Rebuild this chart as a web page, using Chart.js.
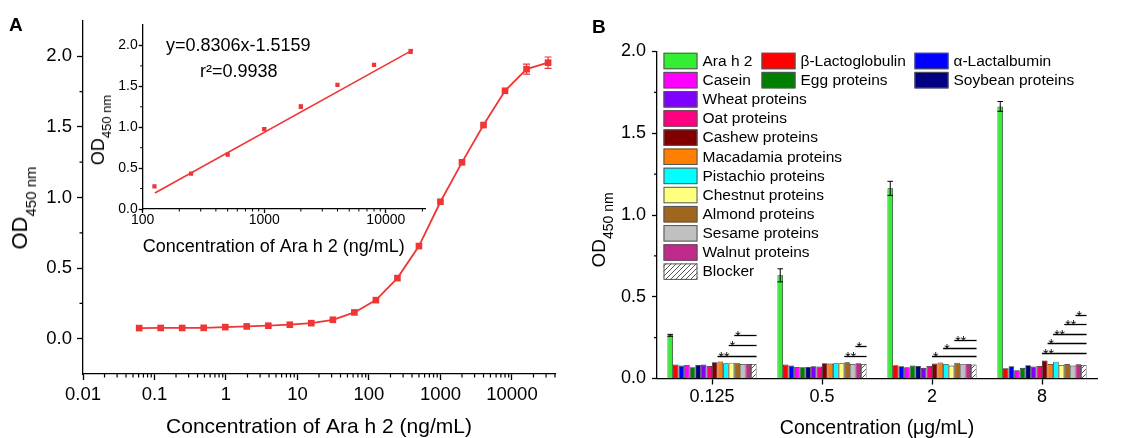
<!DOCTYPE html>
<html>
<head>
<meta charset="utf-8">
<script src="https://cdn.jsdelivr.net/npm/chart.js@4.4.1/dist/chart.umd.min.js"></script>
<style>
html,body{margin:0;padding:0;background:#fff;}
#wrap{position:relative;width:1124px;height:438px;overflow:hidden;font-family:"Liberation Sans",Arial,sans-serif;color:#000;background:#fff;}
canvas{position:absolute;}
.t{position:absolute;white-space:nowrap;line-height:1;}
.rot{position:absolute;white-space:nowrap;line-height:1;transform:translate(-50%,-50%) rotate(-90deg);}
.sub{position:relative;}
</style>
</head>
<body>
<div id="wrap">
  <canvas id="cA" width="560" height="438" style="left:0;top:0;"></canvas>
  <canvas id="cIn" width="340" height="241" style="left:95px;top:15px;"></canvas>
  <canvas id="cB" width="554" height="438" style="left:570px;top:0;"></canvas>

  <div class="t" style="left:9px;top:15px;font-size:19px;font-weight:bold;">A</div>
  <div class="t" style="left:592px;top:17px;font-size:19px;font-weight:bold;">B</div>

  <div class="t" style="left:166px;top:35.5px;font-size:18px;">y=0.8306x-1.5159</div>
  <div class="t" style="left:200px;top:61.5px;font-size:18px;">r²=0.9938</div>

  <div class="rot" style="left:20px;top:207.5px;"><span style="font-size:22px;">OD</span><span class="sub" style="font-size:15px;top:9px;">450 nm</span></div>
  <div class="rot" style="left:97.5px;top:130px;"><span style="font-size:18px;">OD</span><span class="sub" style="font-size:13px;top:7px;">450 nm</span></div>
  <div class="rot" style="left:598px;top:229.5px;"><span style="font-size:19px;">OD</span><span class="sub" style="font-size:14px;top:8px;">450 nm</span></div>
</div>

<script>
// ================= DATA =================
// Panel A: main standard curve (ng/mL vs OD450)
const concA = [0.061, 0.122, 0.244, 0.488, 0.977, 1.95, 3.91, 7.81, 15.6, 31.3, 62.5, 125, 250, 500, 1000, 2000, 4000, 8000, 16000, 32000];
const odA   = [0.075, 0.076, 0.076, 0.077, 0.082, 0.087, 0.092, 0.099, 0.110, 0.134, 0.186, 0.273, 0.429, 0.656, 0.970, 1.249, 1.513, 1.756, 1.909, 1.955];
const errA  = [0, 0, 0, 0, 0, 0, 0, 0, 0, 0, 0, 0, 0, 0, 0, 0, 0, 0, 0.035, 0.04];
const xTicksA = [0.01, 0.1, 1, 10, 100, 1000, 10000];
const yTicksA = [0, 0.5, 1.0, 1.5, 2.0];
const yMinorA = [0.25, 0.75, 1.25, 1.75];

// Panel A inset: linear range
const concIn = [125, 250, 500, 1000, 2000, 4000, 8000, 16000];
const odIn   = [0.278, 0.433, 0.665, 0.976, 1.253, 1.518, 1.763, 1.927];
const errIn  = [0, 0, 0, 0.015, 0.02, 0, 0, 0.025];
const fitX   = [126, 16700];
const fitY   = [0.196, 1.946];
const xTicksIn = [100, 1000, 10000];
const yTicksIn = [0, 0.5, 1.0, 1.5, 2.0];
const yMinorIn = [0.25, 0.75, 1.25, 1.75];

// Panel B: cross-reactivity
const groupsB = ['0.125', '0.5', '2', '8'];
const seriesNames = ['Ara h 2', 'β-Lactoglobulin', 'α-Lactalbumin', 'Casein', 'Egg proteins', 'Soybean proteins',
  'Wheat proteins', 'Oat proteins', 'Cashew proteins', 'Macadamia proteins', 'Pistachio proteins',
  'Chestnut proteins', 'Almond proteins', 'Sesame proteins', 'Walnut proteins', 'Blocker'];
const araH2     = [0.264, 0.631, 1.163, 1.664];
const araH2Err  = [0.006, 0.040, 0.043, 0.030];
const betaLg    = [0.085, 0.085, 0.081, 0.063];
const alphaLa   = [0.079, 0.079, 0.075, 0.075];
const casein    = [0.083, 0.071, 0.069, 0.051];
const eggProt   = [0.069, 0.069, 0.079, 0.065];
const soyProt   = [0.083, 0.071, 0.077, 0.081];
const wheatProt = [0.085, 0.075, 0.065, 0.073];
const oatProt   = [0.077, 0.073, 0.077, 0.077];
const cashewProt= [0.100, 0.093, 0.091, 0.110];
const macaProt  = [0.104, 0.091, 0.098, 0.089];
const pistaProt = [0.093, 0.093, 0.089, 0.102];
const chestProt = [0.096, 0.093, 0.079, 0.083];
const almondProt= [0.096, 0.100, 0.096, 0.089];
const sesameProt= [0.089, 0.089, 0.087, 0.079];
const walnutProt= [0.089, 0.093, 0.089, 0.087];
const blocker   = [0.089, 0.089, 0.085, 0.083];
const yTicksB = [0, 0.5, 1.0, 1.5, 2.0];
const yMinorB = [0.25, 0.75, 1.25, 1.75];

// significance marks: group index, first series index (line runs to Blocker), y value, label
const sigGroup = [0, 0, 0, 1, 1, 2, 2, 2, 3, 3, 3, 3, 3];
const sigFrom  = [9, 11, 12, 12, 14, 8, 10, 12, 8, 9, 10, 12, 14];
const sigY     = [0.140, 0.207, 0.268, 0.140, 0.200, 0.136, 0.189, 0.238, 0.158, 0.215, 0.273, 0.334, 0.390];
const sigMark  = ['**', '*', '*', '**', '*', '*', '*', '**', '**', '*', '**', '**', '*'];

// ================= STYLE =================
const FONT = '"Liberation Sans", Arial, sans-serif';
Chart.defaults.font.family = FONT;
Chart.defaults.color = '#000';
const RED = '#f03535';
const seriesColors = ['#33ee33', '#ff0000', '#0000ff', '#ff00ff', '#008000', '#000080', '#8000ff', '#ff0080',
  '#800000', '#ff8000', '#00ffff', '#ffff80', '#a0661e', '#c0c0c0', '#c02a8a', null];

function logMinor(lo, hi) {
  const out = [];
  for (let e = Math.floor(Math.log10(lo)); e <= Math.ceil(Math.log10(hi)); e++) {
    for (let m = 2; m <= 9; m++) {
      const v = m * Math.pow(10, e);
      if (v > lo && v <= hi * 1.0001) out.push(v);
    }
  }
  return out;
}

// ================= PLUGINS =================
const minorTickPlugin = {
  id: 'minorTicks',
  afterDraw(chart, args, opts) {
    const {ctx, chartArea: a, scales} = chart;
    ctx.save();
    ctx.strokeStyle = '#000';
    ctx.lineWidth = opts.width || 1.2;
    ctx.beginPath();
    (opts.x || []).forEach(v => {
      const p = scales.x.getPixelForValue(v);
      if (p >= a.left - 0.5 && p <= a.right + 0.5) { ctx.moveTo(p, a.bottom); ctx.lineTo(p, a.bottom + opts.len); }
    });
    (opts.y || []).forEach(v => {
      const p = scales.y.getPixelForValue(v);
      if (p >= a.top - 0.5 && p <= a.bottom + 0.5) { ctx.moveTo(a.left, p); ctx.lineTo(a.left - opts.len, p); }
    });
    ctx.stroke();
    ctx.restore();
  }
};

const errorBarPlugin = {
  id: 'errBars',
  afterDatasetsDraw(chart) {
    const ctx = chart.ctx, ys = chart.scales.y;
    chart.data.datasets.forEach((ds, di) => {
      if (!ds.errors) return;
      const meta = chart.getDatasetMeta(di);
      meta.data.forEach((el, j) => {
        const e = ds.errors[j];
        if (!e) return;
        const raw = ds.data[j];
        const v = (typeof raw === 'object') ? raw.y : raw;
        const yt = ys.getPixelForValue(v + e), yb = ys.getPixelForValue(v - e);
        const hw = ds.errCap || 3;
        ctx.save();
        ctx.strokeStyle = ds.errColor || '#000';
        ctx.lineWidth = ds.errWidth || 1;
        ctx.beginPath();
        ctx.moveTo(el.x, yt); ctx.lineTo(el.x, yb);
        ctx.moveTo(el.x - hw, yt); ctx.lineTo(el.x + hw, yt);
        ctx.moveTo(el.x - hw, yb); ctx.lineTo(el.x + hw, yb);
        ctx.stroke();
        ctx.restore();
      });
    });
  }
};

const gridLegendPlugin = {
  id: 'gridLegend',
  afterDraw(chart, args, opts) {
    const ctx = chart.ctx;
    ctx.save();
    ctx.font = opts.fontSize + 'px ' + FONT;
    ctx.textBaseline = 'middle';
    chart.data.datasets.forEach((ds, i) => {
      let row, col;
      if (i < 6) { row = Math.floor(i / 3); col = i % 3; } else { row = i - 4; col = 0; }
      const x = opts.colX[col], cy = opts.rowY0 + row * opts.rowStep;
      ctx.fillStyle = ds.backgroundColor;
      ctx.fillRect(x, cy - opts.h / 2, opts.w, opts.h);
      ctx.strokeStyle = '#555';
      ctx.lineWidth = 1;
      ctx.strokeRect(x + 0.5, cy - opts.h / 2 + 0.5, opts.w - 1, opts.h - 1);
      ctx.fillStyle = '#000';
      ctx.fillText(ds.label, x + opts.w + 5, cy + 0.5);
    });
    ctx.restore();
  }
};

const sigPlugin = {
  id: 'sigMarks',
  afterDraw(chart) {
    const ctx = chart.ctx, ys = chart.scales.y;
    const last = chart.data.datasets.length - 1;
    ctx.save();
    ctx.strokeStyle = '#000';
    ctx.fillStyle = '#000';
    ctx.lineWidth = 1.3;
    ctx.font = '14px ' + FONT;
    ctx.textBaseline = 'alphabetic';
    ctx.textAlign = 'left';
    sigGroup.forEach((g, k) => {
      const a = chart.getDatasetMeta(sigFrom[k]).data[g];
      const b = chart.getDatasetMeta(last).data[g];
      const x0 = a.x - a.width / 2, x1 = b.x + b.width / 2;
      const y = Math.round(ys.getPixelForValue(sigY[k])) + 0.5;
      ctx.beginPath(); ctx.moveTo(x0, y); ctx.lineTo(x1, y); ctx.stroke();
      ctx.fillText(sigMark[k], x0 + 1, y + 5);
    });
    ctx.restore();
  }
};

function axisCommon(tickLen) {
  return {
    grid: {display: true, drawOnChartArea: false, drawTicks: true, tickLength: tickLen, tickColor: '#000', tickWidth: 1.3},
    border: {display: true, color: '#000', width: 1.3}
  };
}

// ================= PANEL A MAIN =================
new Chart(document.getElementById('cA'), {
  type: 'line',
  data: {
    datasets: [{
      data: concA.map((x, i) => ({x: x, y: odA[i]})),
      borderColor: RED, backgroundColor: RED, borderWidth: 1.8,
      pointStyle: 'rect', pointRadius: 4.7, pointBorderWidth: 0, pointBackgroundColor: RED,
      tension: 0, errors: errA, errColor: RED, errCap: 3.5, errWidth: 1.2
    }]
  },
  options: {
    responsive: false, animation: false, events: [],
    layout: {padding: {left: 0, right: 5, top: 21, bottom: 0}},
    plugins: {legend: {display: false}, tooltip: {enabled: false},
      minorTicks: {x: logMinor(0.01, 40000), y: yMinorA, len: 3.5, width: 1.2}},
    scales: {
      x: Object.assign(axisCommon(6), {
        type: 'logarithmic', min: 0.01, max: 40000,
        afterBuildTicks: a => { a.ticks = xTicksA.map(v => ({value: v})); },
        afterFit: a => { a.height = 64; },
        ticks: {callback: v => String(v), font: {size: 18.5}, color: '#000', padding: 4, maxRotation: 0, autoSkip: false},
        title: {display: true, text: 'Concentration of Ara h 2 (ng/mL)', font: {size: 21, lineHeight: 1}, padding: 0, color: '#000'}
      }),
      y: Object.assign(axisCommon(6), {
        type: 'linear', min: -0.25, max: 2.25,
        afterBuildTicks: a => { a.ticks = yTicksA.map(v => ({value: v})); },
        afterFit: a => { a.width = 83; },
        ticks: {callback: v => Number(v).toFixed(1), font: {size: 18.5}, color: '#000', padding: 5}
      })
    }
  },
  plugins: [minorTickPlugin, errorBarPlugin]
});

// ================= PANEL A INSET =================
new Chart(document.getElementById('cIn'), {
  type: 'scatter',
  data: {
    datasets: [
      {data: fitX.map((x, i) => ({x: x, y: fitY[i]})), showLine: true, borderColor: RED, borderWidth: 1.6, pointRadius: 0, fill: false},
      {data: concIn.map((x, i) => ({x: x, y: odIn[i]})), pointStyle: 'rect', pointRadius: 3, pointBorderWidth: 0,
       backgroundColor: RED, pointBackgroundColor: RED, showLine: false, errors: errIn, errColor: RED, errCap: 2.2, errWidth: 1}
    ]
  },
  options: {
    responsive: false, animation: false, events: [],
    layout: {padding: {left: 0, right: 10, top: 10, bottom: 0}},
    plugins: {legend: {display: false}, tooltip: {enabled: false},
      minorTicks: {x: logMinor(100, 21000), y: yMinorIn, len: 2.5, width: 1}},
    scales: {
      x: Object.assign(axisCommon(4), {
        type: 'logarithmic', min: 100, max: 21000,
        afterBuildTicks: a => { a.ticks = xTicksIn.map(v => ({value: v})); },
        afterFit: a => { a.height = 47; },
        ticks: {callback: v => String(v), font: {size: 14}, color: '#000', padding: -1, maxRotation: 0, autoSkip: false},
        title: {display: true, text: 'Concentration of Ara h 2 (ng/mL)', align: 'start', font: {size: 18, lineHeight: 1}, padding: 0, color: '#000'}
      }),
      y: Object.assign(axisCommon(4), {
        type: 'linear', min: 0, max: 2.25,
        afterBuildTicks: a => { a.ticks = yTicksIn.map(v => ({value: v})); },
        afterFit: a => { a.width = 47.7; },
        ticks: {callback: v => Number(v).toFixed(1), font: {size: 14}, color: '#000', padding: 1}
      })
    }
  },
  plugins: [minorTickPlugin, errorBarPlugin]
});

// ================= PANEL B =================
const cB = document.getElementById('cB');
function makeHatch(ctx) {
  const c = document.createElement('canvas');
  c.width = 5; c.height = 5;
  const g = c.getContext('2d');
  g.fillStyle = '#fff'; g.fillRect(0, 0, 5, 5);
  g.strokeStyle = '#444'; g.lineWidth = 0.9;
  g.beginPath();
  g.moveTo(0, 5); g.lineTo(5, 0);
  g.moveTo(-1, 1); g.lineTo(1, -1);
  g.moveTo(4, 6); g.lineTo(6, 4);
  g.stroke();
  return ctx.createPattern(c, 'repeat');
}
const hatch = makeHatch(cB.getContext('2d'));
const seriesValues = [araH2, betaLg, alphaLa, casein, eggProt, soyProt, wheatProt, oatProt, cashewProt,
  macaProt, pistaProt, chestProt, almondProt, sesameProt, walnutProt, blocker];

const datasetsB = seriesNames.map((name, i) => {
  const ds = {
    label: name, data: seriesValues[i],
    backgroundColor: seriesColors[i] || hatch,
    borderColor: '#2a2a2a', borderWidth: 0.8,
    categoryPercentage: 0.81, barPercentage: 1.0
  };
  if (i === 0) { ds.errors = araH2Err; ds.errColor = '#000'; ds.errCap = 2.8; ds.errWidth = 1; }
  return ds;
});

new Chart(cB, {
  type: 'bar',
  data: {labels: groupsB, datasets: datasetsB},
  options: {
    responsive: false, animation: false, events: [],
    layout: {padding: {left: 0, right: 27, top: 51.5, bottom: 0}},
    plugins: {
      legend: {display: false}, tooltip: {enabled: false},
      minorTicks: {y: yMinorB, len: 3, width: 1.2},
      gridLegend: {colX: [93.5, 191.5, 344.5], rowY0: 61, rowStep: 19.15, w: 34, h: 16.5, fontSize: 15.5}
    },
    scales: {
      x: {
        type: 'category', offset: true,
        grid: {display: true, offset: false, drawOnChartArea: false, drawTicks: true, tickLength: 6, tickColor: '#000', tickWidth: 1.3},
        border: {display: true, color: '#000', width: 1.3},
        afterFit: a => { a.height = 59.5; },
        ticks: {font: {size: 18}, color: '#000', padding: 2, maxRotation: 0},
        title: {display: true, text: 'Concentration (μg/mL)', font: {size: 19.5, lineHeight: 1}, padding: 0, color: '#000'}
      },
      y: Object.assign(axisCommon(5), {
        type: 'linear', min: 0, max: 2.0,
        afterBuildTicks: a => { a.ticks = yTicksB.map(v => ({value: v})); },
        afterFit: a => { a.width = 87; },
        ticks: {callback: v => Number(v).toFixed(1), font: {size: 18}, color: '#000', padding: 6}
      })
    }
  },
  plugins: [minorTickPlugin, errorBarPlugin, gridLegendPlugin, sigPlugin]
});
</script>
</body>
</html>
